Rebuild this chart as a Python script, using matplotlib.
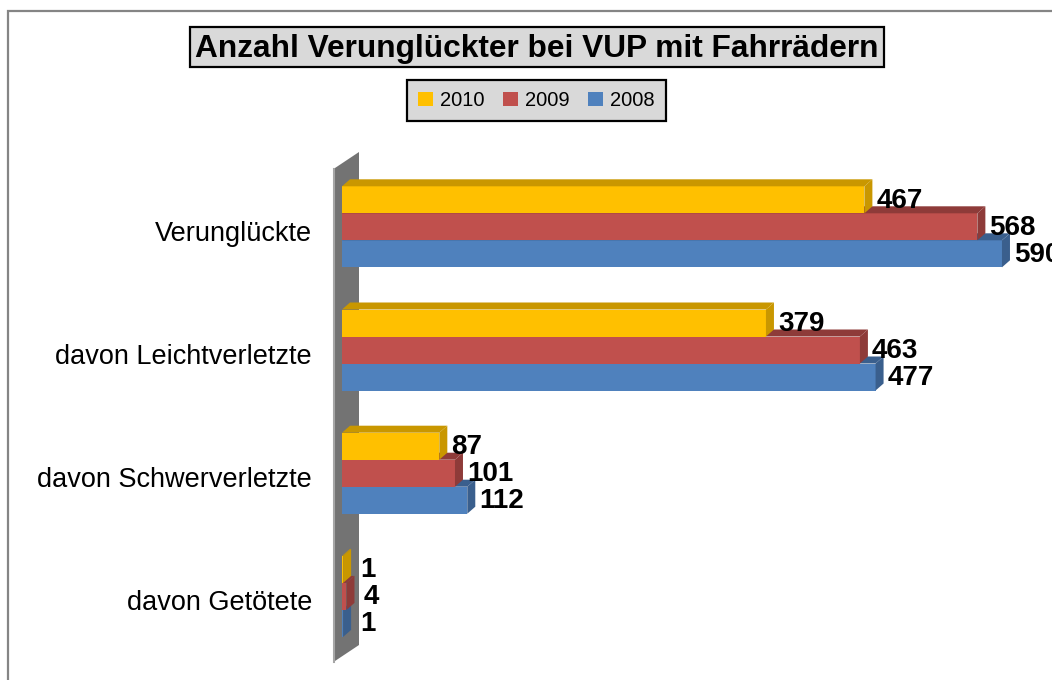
import matplotlib
matplotlib.use("Agg")
import matplotlib.pyplot as plt
from matplotlib.patches import Polygon, Rectangle, Patch

categories = ["Verunglückte", "davon Leichtverletzte",
              "davon Schwerverletzte", "davon Getötete"]
years = ["2010", "2009", "2008"]
values_2010 = [467, 379, 87, 1]
values_2009 = [568, 463, 101, 4]
values_2008 = [590, 477, 112, 1]
series = {"2010": values_2010, "2009": values_2009, "2008": values_2008}

FRONT = {"2010": "#FFC000", "2009": "#C0504D", "2008": "#4F81BD"}
SHADE = {"2010": "#C99700", "2009": "#8E3B39", "2008": "#3A5F8D"}

plt.rcParams["font.family"] = ["Liberation Sans", "DejaVu Sans"]

W, H, DPI = 1052, 680, 100
fig = plt.figure(figsize=(W / DPI, H / DPI), dpi=DPI)

# axes box in pixels, value 0 at X0, px per unit K
AX_L, AX_R, AX_T, AX_B = 330, 1052, 140, 670
X0, K = 342, 1.1186
ROW0, STEP = 226.8, 123.2

ax = fig.add_axes([AX_L / W, 1 - AX_B / H, (AX_R - AX_L) / W, (AX_B - AX_T) / H])
ax.set_xlim((AX_L - X0) / K, (AX_R - X0) / K)
ax.set_ylim((AX_B - ROW0) / STEP, (AX_T - ROW0) / STEP)
ax.axis("off")

bar_h = 27 / STEP
dx, dy = 8 / K, 7 / STEP

# back wall
wx1, wx2 = (333.5 - X0) / K, (359 - X0) / K
wall = [(wx1, (169 - ROW0) / STEP), (wx2, (152 - ROW0) / STEP),
        (wx2, (645 - ROW0) / STEP), (wx1, (662 - ROW0) / STEP)]
ax.add_patch(Polygon(wall, closed=True, facecolor="#737373", edgecolor="none", zorder=1))
ax.plot([wx1, wx1], [wall[0][1], wall[3][1]], color="#a6a6a6", lw=1.5, zorder=1)

offsets = {"2010": -bar_h, "2009": 0.0, "2008": bar_h}
zorders = {"2008": 2, "2009": 3, "2010": 4}

for year in ["2008", "2009", "2010"]:
    vals = series[year]
    ys = [i + offsets[year] for i in range(len(categories))]
    z = zorders[year]
    ax.barh(ys, vals, height=bar_h, left=0, color=FRONT[year],
            edgecolor="none", zorder=z)
    for v, y in zip(vals, ys):
        top = y - bar_h / 2
        bot = y + bar_h / 2
        ax.add_patch(Polygon([(0, top), (v, top), (v + dx, top - dy), (dx, top - dy)],
                             closed=True, facecolor=SHADE[year], edgecolor="none", zorder=z))
        ax.add_patch(Polygon([(v, top), (v + dx, top - dy), (v + dx, bot - dy), (v, bot)],
                             closed=True, facecolor=SHADE[year], edgecolor="none", zorder=z))
        # tiny bars get their labels pushed a bit further out
        xoff = 12 if v > 10 else 17
        ax.annotate(str(v), xy=(v, y), xytext=(xoff, -8), textcoords="offset pixels",
                    ha="left", va="baseline", fontsize=20, fontweight="bold",
                    annotation_clip=False, zorder=6)

for i, cat in enumerate(categories):
    ax.annotate(cat, xy=(0, i), xytext=(312 - X0, -14), textcoords="offset pixels",
                ha="right", va="baseline", fontsize=19.5, annotation_clip=False)

# outer frame
fig.add_artist(Rectangle((8 / W, -0.1), 1.2, 1.1 - 11 / H, transform=fig.transFigure,
                         facecolor="none", edgecolor="#858585", lw=1.6))

# title box
fig.add_artist(Rectangle((190 / W, 1 - 67 / H), 694 / W, 40 / H, transform=fig.transFigure,
                         facecolor="#D9D9D9", edgecolor="black", lw=1.6))
fig.text(537 / W, 1 - 56.5 / H, "Anzahl Verunglückter bei VUP mit Fahrrädern",
         ha="center", va="baseline", fontsize=22.8, fontweight="bold")

handles = [Patch(facecolor=FRONT[y], edgecolor="none", label=y) for y in years]
leg = fig.legend(handles=handles, loc="center", bbox_to_anchor=(536.5 / W, 1 - 100.5 / H),
                 ncol=3, fontsize=14.5, frameon=True, fancybox=False, framealpha=1,
                 facecolor="#D9D9D9", edgecolor="black", handlelength=0.75,
                 handleheight=0.75, handletextpad=0.35, columnspacing=0.9,
                 borderpad=0.55, borderaxespad=0)
leg.get_frame().set_linewidth(1.6)

fig.savefig("out.png", dpi=DPI)
